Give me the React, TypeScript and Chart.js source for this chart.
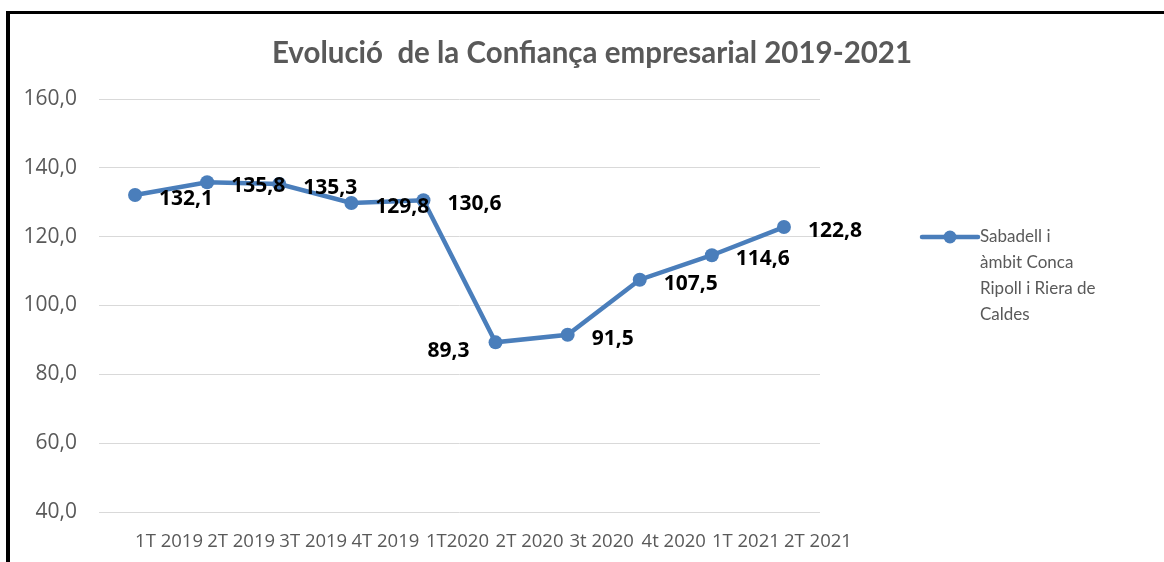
import React, { useEffect, useRef } from "react";
import { Chart, registerables } from "chart.js";

Chart.register(...registerables);

const title = "Evolució  de la Confiança empresarial 2019-2021";
const categories = [
  "1T 2019",
  "2T 2019",
  "3T 2019",
  "4T 2019",
  "1T2020",
  "2T 2020",
  "3t 2020",
  "4t 2020",
  "1T 2021",
  "2T 2021",
];
const seriesName = "Sabadell i àmbit Conca Ripoll i Riera de Caldes";
const legendLines = ["Sabadell i", "àmbit Conca", "Ripoll i Riera de", "Caldes"];
const values = [132.1, 135.8, 135.3, 129.8, 130.6, 89.3, 91.5, 107.5, 114.6, 122.8];
const yMin = 40;
const yMax = 160;
const yStep = 20;
const labelSides = ["right", "right", "right", "right", "right", "left", "right", "right", "right", "right"];

const LINE_COLOR = "#4a7ebb";
const TEXT_GRAY = "#595959";

const fmt = (v: number) => v.toFixed(1).replace(".", ",");

const overlayPlugin = {
  id: "overlay",
  afterDatasetsDraw(chart: any) {
    const ctx = chart.ctx as CanvasRenderingContext2D;
    const meta = chart.getDatasetMeta(0);
    ctx.save();
    // data labels
    ctx.font = "bold 21px 'Open Sans'";
    ctx.fillStyle = "#000000";
    ctx.textBaseline = "middle";
    meta.data.forEach((pt: any, i: number) => {
      const left = labelSides[i] === "left";
      ctx.textAlign = left ? "right" : "left";
      ctx.fillText(fmt(values[i]), pt.x + (left ? -26 : 24), pt.y + (left ? 9 : 4));
    });
    // title
    ctx.font = "bold 29.5px Lato";
    ctx.fillStyle = TEXT_GRAY;
    ctx.textAlign = "center";
    ctx.textBaseline = "middle";
    ctx.fillText(title, 592, 53);
    // legend
    const lx = 922;
    const ly = 237;
    ctx.strokeStyle = LINE_COLOR;
    ctx.lineWidth = 4.5;
    ctx.lineCap = "round";
    ctx.beginPath();
    ctx.moveTo(lx, ly);
    ctx.lineTo(lx + 56, ly);
    ctx.stroke();
    ctx.fillStyle = LINE_COLOR;
    ctx.beginPath();
    ctx.arc(lx + 28, ly, 6.5, 0, Math.PI * 2);
    ctx.fill();
    ctx.font = "17px Lato";
    ctx.fillStyle = TEXT_GRAY;
    ctx.textAlign = "left";
    ctx.textBaseline = "middle";
    legendLines.forEach((line, i) => {
      ctx.fillText(line, lx + 58, ly + i * 26);
    });
    ctx.restore();
  },
};

export default function App() {
  const canvasRef = useRef<HTMLCanvasElement | null>(null);

  useEffect(() => {
    if (!canvasRef.current) return;
    const chart = new Chart(canvasRef.current, {
      type: "line",
      data: {
        labels: categories,
        datasets: [
          {
            label: seriesName,
            data: values,
            borderColor: LINE_COLOR,
            backgroundColor: LINE_COLOR,
            borderWidth: 4.5,
            pointRadius: 7,
            pointHoverRadius: 7,
            pointBackgroundColor: LINE_COLOR,
            pointBorderColor: LINE_COLOR,
            pointBorderWidth: 0,
            tension: 0,
            clip: false as any,
          },
        ],
      },
      options: {
        responsive: false,
        animation: false,
        events: [],
        layout: { padding: { left: 0, top: 99, right: 1164 - 820, bottom: 0 } },
        plugins: {
          legend: { display: false },
          title: { display: false },
          tooltip: { enabled: false },
        },
        scales: {
          x: {
            type: "category",
            offset: true,
            grid: { display: false, drawTicks: false },
            border: { display: false },
            ticks: {
              color: TEXT_GRAY,
              font: { family: "'Open Sans'", size: 18.5 },
              padding: 19,
              labelOffset: 34,
              maxRotation: 0,
              minRotation: 0,
              autoSkip: false,
            },
            afterFit: (scale: any) => {
              scale.height = 50;
            },
          },
          y: {
            min: yMin,
            max: yMax,
            grid: { color: "#d9d9d9", lineWidth: 1, drawTicks: false },
            border: { display: false },
            ticks: {
              stepSize: yStep,
              color: TEXT_GRAY,
              font: { family: "'Open Sans'", size: 21 },
              padding: 22,
              callback: (v: any) => fmt(Number(v)),
            },
            afterFit: (scale: any) => {
              scale.width = 99;
            },
          },
        },
      },
      plugins: [overlayPlugin],
    });
    return () => chart.destroy();
  }, []);

  return (
    <div style={{ position: "absolute", left: 0, top: 0, width: 1164, height: 562, overflow: "hidden", background: "#ffffff" }}>
      <canvas ref={canvasRef} width={1164} height={562} style={{ position: "absolute", left: 0, top: 0, width: 1164, height: 562 }} />
      <div
        style={{
          position: "absolute",
          left: 6,
          top: 11,
          width: 1158,
          height: 551,
          borderTop: "3px solid #000",
          borderLeft: "4px solid #000",
          boxSizing: "border-box",
          pointerEvents: "none",
        }}
      />
    </div>
  );
}
